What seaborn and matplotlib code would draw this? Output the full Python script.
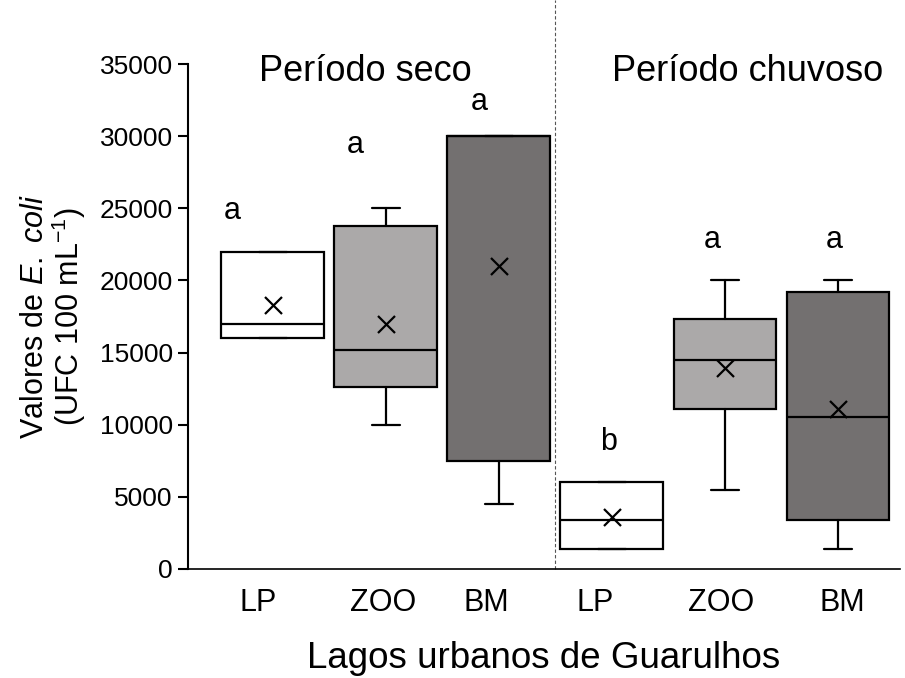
import matplotlib
matplotlib.use('Agg')
import matplotlib.pyplot as plt
import seaborn as sns
import pandas as pd

# Dados (UFC 100 mL-1)
lagos = ['LP', 'ZOO', 'BM', 'LP', 'ZOO', 'BM']
periodos = ['seco', 'seco', 'seco', 'chuvoso', 'chuvoso', 'chuvoso']
minimos = [16000, 10000, 4500, 1400, 5500, 1400]
quartil1 = [16000, 12600, 7500, 1400, 11100, 3400]
medianas = [17000, 15200, 30000, 3400, 14500, 10500]
quartil3 = [22000, 23800, 30000, 6000, 17300, 19200]
maximos = [22000, 25000, 30000, 6000, 20000, 20000]
medias = [18300, 17000, 21000, 3600, 13900, 11100]
letras = ['a', 'a', 'a', 'b', 'a', 'a']
altura_letras = [24800, 29400, 32400, 8800, 22800, 22800]
cores_lagos = {'LP': '#ffffff', 'ZOO': '#aba9a9', 'BM': '#737070'}

# deslocamentos horizontais (layout) das letras e dos rótulos
desloc_letras = [-0.36, -0.27, -0.17, -0.03, -0.11, -0.03]
desloc_rotulos = [-0.13, -0.02, -0.11, -0.15, -0.03, 0.04]

df = pd.DataFrame({'lago': lagos, 'periodo': periodos, 'min': minimos,
                   'q1': quartil1, 'med': medianas, 'q3': quartil3,
                   'max': maximos, 'media': medias})
df['pos'] = range(len(df))

sns.set_style('white')
plt.rcParams['font.family'] = ['Liberation Sans', 'DejaVu Sans']
plt.rcParams['text.color'] = 'black'
plt.rcParams['axes.labelcolor'] = 'black'
plt.rcParams['xtick.color'] = 'black'
plt.rcParams['ytick.color'] = 'black'
plt.rcParams['mathtext.fontset'] = 'custom'
plt.rcParams['mathtext.rm'] = 'Liberation Sans'
plt.rcParams['mathtext.it'] = 'Liberation Sans:italic'

fig = plt.figure(figsize=(9.05, 6.78), dpi=100)
ax = fig.add_axes([0.2077, 0.1608, 0.787, 0.7448])

# Caixas com as estatísticas lidas
stats = [dict(med=r['med'], q1=r['q1'], q3=r['q3'], whislo=r['min'],
              whishi=r['max'], label=r['lago']) for _, r in df.iterrows()]
bp = ax.bxp(stats, positions=df['pos'], widths=0.91, capwidths=0.25,
            patch_artist=True, showfliers=False, manage_ticks=False,
            boxprops=dict(linewidth=1.6, edgecolor='black'),
            medianprops=dict(color='black', linewidth=1.6),
            whiskerprops=dict(color='black', linewidth=1.6),
            capprops=dict(color='black', linewidth=1.6))
for caixa, lago in zip(bp['boxes'], df['lago']):
    caixa.set_facecolor(cores_lagos[lago])

# Médias
sns.scatterplot(x=df['pos'], y=df['media'], marker='x', s=150,
                color='black', linewidth=1.6, ax=ax, zorder=5, legend=False)

# Letras de significância
for x, dx, y, letra in zip(df['pos'], desloc_letras, altura_letras, letras):
    ax.text(x + dx, y, letra, ha='center', va='center', fontsize=22)

# Separação entre períodos
ax.axvline(2.5, ymin=0, ymax=1.127, color='#555555', linestyle=(0, (3, 2)),
           linewidth=0.8, clip_on=False)
ax.text(0.82, 34500, 'Período seco', ha='center', va='center', fontsize=26)
ax.text(4.2, 34500, 'Período chuvoso', ha='center', va='center', fontsize=26)

ax.set_xlim(-0.75, 5.55)
ax.set_ylim(0, 35000)
ax.set_yticks(range(0, 35001, 5000))
ax.set_xticks(df['pos'] + pd.Series(desloc_rotulos))
ax.set_xticklabels(df['lago'])
ax.tick_params(axis='y', direction='out', length=7, width=1.5, labelsize=19,
               left=True, pad=4)
ax.tick_params(axis='x', length=0, labelsize=22, pad=14)
sns.despine(ax=ax)
ax.spines['left'].set_linewidth(1.5)
ax.spines['bottom'].set_linewidth(1.2)
ax.spines['left'].set_color('black')
ax.spines['bottom'].set_color('black')

ax.set_ylabel('Valores de $\\it{E.\\ coli}$\n(UFC 100 mL$^{-1}$)',
              fontsize=22, linespacing=1.0, labelpad=8)
ax.set_xlabel('Lagos urbanos de Guarulhos', fontsize=26.5, labelpad=16)

fig.savefig('out.png', dpi=100)
